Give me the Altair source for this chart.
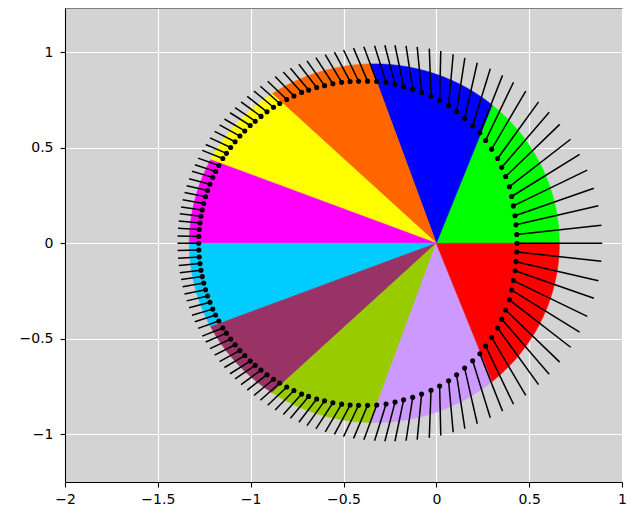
import math
import altair as alt
import pandas as pd

# ---------------- data ----------------
slice_names = ["s1", "s2", "s3", "s4", "s5", "s6", "s7", "s8", "s9", "s10"]
slice_colors = ["#00ff00", "#0000ff", "#ff6600", "#ffff00", "#ff00ff",
                "#00ccff", "#993366", "#99cc00", "#cc99ff", "#ff0000"]
# slice boundaries (degrees, counter-clockwise from +x, seen from the hub at 0,0)
slice_edges_deg = [0, 67.4, 110.8, 138.5, 160.2, 180, 199.8, 221.5, 249.2, 292.6, 360]
# rim of the pie: distance from the hub to the rim along +x and along -x
pie_rim_right = 0.6625
pie_rim_left = 1.3303

# stem markers (upper half, 0..180 deg; the lower half mirrors it)
dot_angle_deg = [0, 6.04, 12.66, 18.77, 25.24, 31.12, 36.97, 43.13, 48.44, 53.36,
                 58.85, 63.75, 67.92, 72.36, 76.87, 81.0, 84.76, 88.64, 92.13, 95.73,
                 98.97, 102.13, 104.97, 107.83, 110.77, 113.58, 116.28, 118.74, 121.2, 123.71,
                 126.12, 128.31, 130.62, 132.57, 134.85, 136.95, 139.06, 140.93, 142.96, 144.88,
                 146.78, 148.41, 150.32, 152.05, 153.87, 155.64, 157.4, 158.91, 160.85, 162.46,
                 164.02, 165.77, 167.36, 168.93, 170.56, 172.12, 173.63, 175.22, 176.78, 178.43, 180]
dot_radius = [0.4346, 0.4355, 0.4395, 0.4475, 0.4585, 0.4737, 0.4925, 0.5114, 0.5310, 0.5532,
              0.5757, 0.6002, 0.6240, 0.6460, 0.6711, 0.6975, 0.7235, 0.7481, 0.7705, 0.7938,
              0.8165, 0.8385, 0.8610, 0.8840, 0.9055, 0.9260, 0.9460, 0.9660, 0.9850, 1.0040,
              1.0215, 1.0395, 1.0565, 1.0725, 1.0875, 1.1025, 1.1165, 1.1295, 1.1425, 1.1545,
              1.1660, 1.1770, 1.1875, 1.1975, 1.2070, 1.2160, 1.2245, 1.2325, 1.2400, 1.2465,
              1.2525, 1.2578, 1.2625, 1.2665, 1.2700, 1.2730, 1.2755, 1.2773, 1.2787, 1.2796, 1.2800]
# outer ends of the stems lie on an ellipse
tip_center_x = -0.2504
tip_semi_x = 1.144
tip_semi_y = 1.037

x_ticks = [-2, -1.5, -1, -0.5, 0, 0.5, 1]
y_ticks = [-1, -0.5, 0, 0.5, 1]
x_domain = [-2, 1]
y_domain = [-1.25, 1.2317]

# ---------------- geometry built from the data ----------------
ecc = (pie_rim_left - pie_rim_right) / (pie_rim_left + pie_rim_right)
semi_latus = pie_rim_right * (1 + ecc)


def rim(theta):
    return semi_latus / (1 + ecc * math.cos(theta))


wedge_rows = []
for k, name in enumerate(slice_names):
    a0 = math.radians(slice_edges_deg[k])
    a1 = math.radians(slice_edges_deg[k + 1])
    n = max(8, int(abs(slice_edges_deg[k + 1] - slice_edges_deg[k]) * 2))
    pts = [(0.0, 0.0)]
    for j in range(n + 1):
        t = a0 + (a1 - a0) * j / n
        r = rim(t)
        pts.append((r * math.cos(t), r * math.sin(t)))
    pts.append((0.0, 0.0))
    for i, (px, py) in enumerate(pts):
        wedge_rows.append({"slice": name, "i": i, "x": px, "y": py})
wedges_df = pd.DataFrame(wedge_rows)


def tip_distance(theta):
    c, s = math.cos(theta), math.sin(theta)
    qa = (c / tip_semi_x) ** 2 + (s / tip_semi_y) ** 2
    qb = -2 * c * tip_center_x / tip_semi_x ** 2
    qc = (tip_center_x / tip_semi_x) ** 2 - 1
    return (-qb + math.sqrt(qb * qb - 4 * qa * qc)) / (2 * qa)


stem_rows = []
angles = dot_angle_deg + [-a for a in dot_angle_deg[1:-1]]
radii = dot_radius + dot_radius[1:-1]
for a, r in zip(angles, radii):
    t = math.radians(a)
    R = tip_distance(t)
    stem_rows.append({"x": r * math.cos(t), "y": r * math.sin(t),
                      "x2": R * math.cos(t), "y2": R * math.sin(t)})
stems_df = pd.DataFrame(stem_rows)

# ---------------- chart ----------------
xs = alt.Scale(domain=x_domain, nice=False, zero=False)
ys = alt.Scale(domain=y_domain, nice=False, zero=False)

axis_common = dict(format="~g", grid=True, gridColor="white", gridWidth=1.1,
                   domainColor="black", domainWidth=1.1, tickColor="black",
                   tickWidth=1.1, tickSize=5, labelFont="DejaVu Sans",
                   labelFontSize=14, labelColor="black", labelFlush=False,
                   labelOverlap=False, title=None)
x_axis = alt.Axis(values=x_ticks, labelPadding=5, **axis_common)
y_axis = alt.Axis(values=y_ticks, labelPadding=7, **axis_common)
top_axis = alt.Axis(orient="top", labels=False, ticks=False, grid=False,
                    domainColor="#808080", domainWidth=1.1, title=None)

color_scale = alt.Scale(domain=slice_names, range=slice_colors)

wedges = alt.Chart(wedges_df).mark_line(strokeWidth=0.6).encode(
    x=alt.X("x:Q", scale=xs, axis=x_axis),
    y=alt.Y("y:Q", scale=ys, axis=y_axis),
    order=alt.Order("i:Q"),
    detail="slice:N",
    fill=alt.Fill("slice:N", scale=color_scale, legend=None),
    stroke=alt.Stroke("slice:N", scale=color_scale, legend=None),
)

sticks = alt.Chart(stems_df).mark_rule(color="black", strokeWidth=1.5).encode(
    x=alt.X("x2:Q", scale=xs, axis=None),
    y=alt.Y("y2:Q", scale=ys, axis=y_axis),
    x2="x:Q",
    y2="y:Q",
)

dots = alt.Chart(stems_df).mark_circle(color="black", size=26, opacity=1).encode(
    x=alt.X("x:Q", scale=xs, axis=top_axis),
    y=alt.Y("y:Q", scale=ys, axis=y_axis),
)

chart = alt.layer(wedges, sticks, dots).resolve_axis(x="independent").properties(
    width=557, height=474,
    background="white",
    autosize=alt.AutoSizeParams(type="none"),
    padding={"left": 57, "top": 0, "right": 10, "bottom": 24},
).configure_view(fill="#d3d3d3", stroke="transparent")

chart.save("out.html", embed_options={"renderer": "svg", "actions": False})
